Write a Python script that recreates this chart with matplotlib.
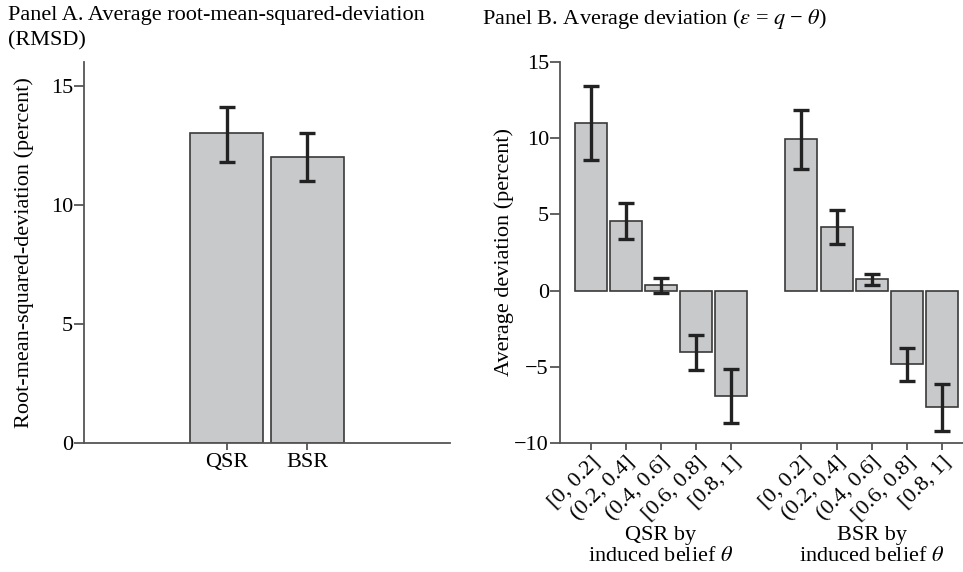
import numpy as np
import matplotlib as mpl
mpl.use('Agg')
from matplotlib import pyplot as plt

plt.rcParams['font.family'] = ['Liberation Serif', 'DejaVu Serif']
plt.rcParams['mathtext.fontset'] = 'stix'

# Panel A: RMSD by scoring rule
rules = ['QSR', 'BSR']
rmsd = [13.0, 12.03]
rmsd_lo = [11.8, 11.02]
rmsd_hi = [14.12, 13.03]

# Panel B: average deviation by induced belief bin
bins = ['[0, 0.2]', '(0.2, 0.4]', '(0.4, 0.6]', '[0.6, 0.8]', '[0.8, 1]']
qsr_dev = [11.0, 4.55, 0.39, -4.05, -6.93]
qsr_lo = [8.58, 3.39, -0.13, -5.2, -8.68]
qsr_hi = [13.43, 5.77, 0.83, -2.89, -5.14]
bsr_dev = [9.95, 4.18, 0.74, -4.84, -7.66]
bsr_lo = [7.98, 3.06, 0.37, -5.91, -9.21]
bsr_hi = [11.88, 5.29, 1.12, -3.76, -6.12]
groups = ['QSR by\ninduced belief $\\theta$', 'BSR by\ninduced belief $\\theta$']

BAR = '#c8c9cb'
EDGE = '#3a3a3a'
ERR = '#222222'
AX = '#555555'
FS = 16


def style(ax):
    for s in ['top', 'right']:
        ax.spines[s].set_visible(False)
    for s in ['left', 'bottom']:
        ax.spines[s].set_color(AX)
        ax.spines[s].set_linewidth(1.3)
    ax.tick_params(axis='y', length=7, width=1.3, color=AX, labelsize=FS, pad=1)
    ax.tick_params(axis='x', length=5, width=1.3, color=AX, labelsize=FS, pad=2)


def bars(ax, x, vals, lo, hi):
    vals = np.array(vals)
    yerr = [vals - np.array(lo), np.array(hi) - vals]
    ax.bar(x, vals, width=0.91, color=BAR, edgecolor=EDGE, linewidth=1.2, zorder=2)
    ax.errorbar(x, vals, yerr=yerr, fmt='none', ecolor=ERR, elinewidth=2.4,
                capsize=6, capthick=2.4, zorder=3)


fig = plt.figure(figsize=(9.63, 5.72), dpi=100)

# Panel A
axA = fig.add_axes([84/963, 1-443/572, 366/963, 381/572])
xa = np.arange(len(rules))
bars(axA, xa, rmsd, rmsd_lo, rmsd_hi)
axA.set_xlim(-1.77, 2.77)
axA.set_ylim(0, 16)
axA.set_yticks([0, 5, 10, 15])
axA.set_xticks(xa)
axA.set_xticklabels(rules)
axA.set_ylabel('Root-mean-squared-deviation (percent)', fontsize=FS, labelpad=12)
style(axA)
fig.text(8/963, 1-6/572, 'Panel A. Average root-mean-squared-deviation\n(RMSD)',
         fontsize=FS, ha='left', va='top', linespacing=1.45)

# Panel B
axB = fig.add_axes([560/963, 1-443/572, 403/963, 381/572])
xq = np.arange(len(bins))
xb = xq + len(bins) + 1
bars(axB, xq, qsr_dev, qsr_lo, qsr_hi)
bars(axB, xb, bsr_dev, bsr_lo, bsr_hi)
axB.set_xlim(-0.87, 10.6)
axB.set_ylim(-10, 15)
axB.set_yticks([-10, -5, 0, 5, 10, 15])
axB.set_xticks(np.concatenate([xq, xb]))
axB.set_xticklabels(bins + bins, rotation=45, ha='right', va='top',
                    rotation_mode='anchor')
axB.set_ylabel('Average deviation (percent)', fontsize=FS, labelpad=0)
style(axB)
for gx, g in zip([xq.mean(), xb.mean()], groups):
    axB.annotate(g, xy=(gx, 0), xycoords=('data', 'axes fraction'),
                 xytext=(0, -60), textcoords='offset points',
                 ha='center', va='top', fontsize=FS, linespacing=1.1)
fig.text(482/963, 1-7/572, 'Panel B. Average deviation ($\\epsilon$ = $q$ \u2212 $\\theta$)',
         fontsize=FS, ha='left', va='top')

fig.savefig('out.png', dpi=100)
